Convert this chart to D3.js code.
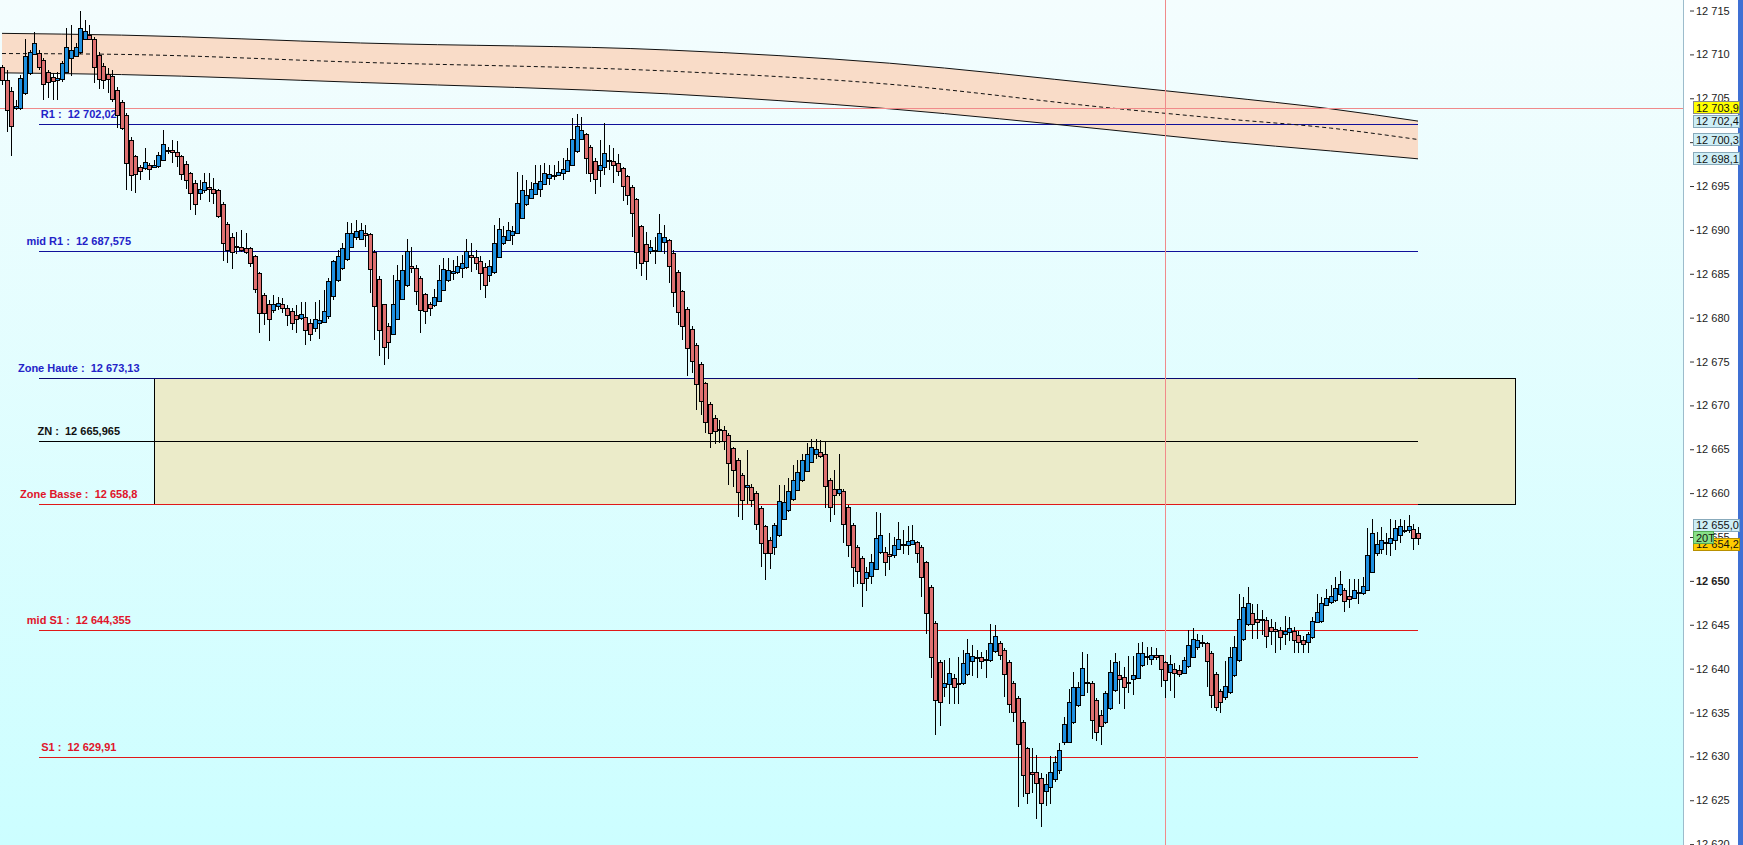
<!DOCTYPE html>
<html><head><meta charset="utf-8">
<script src="https://cdn.jsdelivr.net/npm/d3@7"></script>
<style>html,body{margin:0;padding:0;background:#fff;overflow:hidden}text{font-family:"Liberation Sans",Arial,sans-serif}</style>
</head><body>
<svg id="c" width="1743" height="845"></svg>
<script>
// ---------- DATA ----------
const open = [
12708.6,12707.1,12705.8,12703.9,12703.9,12705.6,12707.9,12710.1,12710.2,12709.4,
12708.0,12707.4,12707.1,12707.2,12708.0,12709.6,12709.9,12710.3,12711.8,12712.2,
12711.8,12709.9,12708.7,12707.8,12707.5,12706.0,12704.6,12703.1,12700.3,12698.4,
12697.2,12697.0,12697.4,12697.2,12697.2,12698.0,12699.0,12699.1,12698.9,12698.4,
12697.5,12696.5,12695.4,12694.3,12694.6,12694.9,12694.7,12694.5,12693.0,12690.7,
12689.2,12688.2,12688.1,12687.9,12687.9,12687.0,12685.1,12682.6,12681.6,12680.9,
12681.4,12681.6,12681.1,12680.8,12680.3,12679.9,12680.1,12679.4,12678.8,12679.4,
12679.5,12680.2,12682.4,12684.3,12685.6,12686.6,12688.1,12689.2,12689.0,12689.6,
12689.5,12687.5,12684.4,12681.5,12679.1,12678.2,12679.9,12682.1,12683.7,12685.9,
12685.7,12684.5,12682.7,12681.6,12681.4,12681.9,12683.1,12684.3,12685.1,12685.2,
12685.6,12685.8,12687.1,12686.9,12686.5,12685.8,12684.9,12685.2,12686.9,12688.5,
12688.9,12689.5,12689.7,12691.4,12693.0,12693.7,12694.1,12694.7,12695.2,12696.0,
12696.2,12696.3,12696.5,12696.7,12697.4,12698.9,12700.4,12700.9,12699.5,12697.9,
12696.8,12697.2,12698.0,12697.9,12697.6,12697.1,12696.1,12694.9,12693.5,12690.5,
12688.4,12687.5,12687.7,12687.6,12688.6,12688.9,12687.4,12685.2,12683.0,12681.0,
12678.7,12676.9,12674.7,12672.5,12670.2,12668.6,12667.3,12667.2,12666.6,12665.1,
12663.8,12662.1,12660.7,12660.7,12660.0,12658.3,12656.2,12654.7,12653.9,12655.2,
12657.1,12658.1,12659.3,12660.4,12661.5,12662.6,12663.6,12664.4,12664.7,12664.5,
12661.5,12660.5,12660.0,12660.3,12658.4,12656.4,12653.9,12652.6,12650.3,12650.6,
12651.4,12653.3,12653.3,12653.1,12653.0,12653.7,12654.1,12654.1,12654.3,12654.4,
12653.9,12652.1,12649.3,12645.2,12640.8,12638.0,12638.2,12638.9,12638.3,12638.3,
12639.4,12640.8,12641.2,12641.3,12641.0,12641.0,12642.0,12642.9,12642.1,12640.8,
12638.4,12636.7,12633.9,12630.9,12628.2,12628.2,12627.5,12626.1,12626.5,12627.5,
12628.4,12631.6,12631.6,12633.9,12635.8,12637.0,12638.5,12638.4,12636.4,12634.7,
12633.9,12635.5,12637.5,12639.3,12639.0,12638.4,12638.8,12638.9,12640.4,12641.3,
12641.1,12641.6,12641.5,12640.7,12639.6,12640.0,12639.8,12639.5,12640.3,12641.4,
12642.5,12643.0,12642.9,12641.8,12639.4,12637.5,12636.8,12637.3,12639.3,12640.9,
12643.3,12645.1,12646.3,12645.7,12645.6,12645.5,12644.8,12644.5,12644.4,12644.0,
12644.2,12644.3,12643.8,12643.3,12643.0,12643.6,12645.4,12645.4,12647.3,12647.6,
12647.8,12648.5,12649.0,12648.3,12648.1,12648.6,12648.6,12649.0,12651.1,12653.2,
12653.7,12654.3,12654.3,12654.6,12655.3,12655.7,12655.7,12655.9,12655.4];
const high = [
12708.8,12708.2,12706.3,12704.8,12707.7,12711.8,12710.5,12712.6,12710.5,12709.6,
12708.2,12707.9,12708.0,12709.2,12713.0,12713.4,12711.3,12714.9,12713.9,12713.4,
12712.0,12710.3,12709.0,12708.4,12708.2,12706.3,12704.8,12703.3,12700.6,12698.5,
12697.4,12699.3,12697.6,12698.0,12698.9,12701.4,12699.5,12700.3,12700.1,12698.5,
12697.8,12696.6,12695.7,12695.7,12696.5,12696.5,12695.9,12694.7,12693.2,12690.9,
12689.6,12689.8,12690.0,12689.6,12688.1,12687.1,12685.2,12682.8,12682.0,12682.6,
12682.4,12682.2,12681.4,12681.1,12681.4,12681.8,12681.8,12679.9,12681.8,12682.0,
12683.2,12684.5,12686.6,12687.7,12688.5,12690.9,12690.8,12691.1,12690.8,12690.6,
12689.6,12687.7,12684.7,12681.6,12679.4,12684.9,12686.0,12687.1,12689.0,12688.1,
12686.0,12684.7,12682.8,12681.8,12683.3,12686.0,12686.8,12686.8,12686.6,12687.0,
12687.1,12689.0,12688.5,12687.7,12687.0,12686.2,12686.6,12690.6,12691.3,12690.4,
12690.9,12690.4,12696.6,12696.3,12695.7,12695.5,12697.4,12697.4,12697.6,12697.4,
12697.4,12697.8,12698.2,12699.3,12702.7,12703.2,12702.9,12701.0,12699.7,12698.2,
12700.3,12702.2,12699.7,12699.3,12698.7,12697.2,12696.3,12695.1,12693.6,12690.6,
12689.8,12688.8,12689.2,12691.8,12690.6,12689.0,12687.7,12685.4,12683.1,12681.2,
12679.0,12677.1,12674.9,12672.7,12670.4,12668.9,12668.3,12667.6,12666.9,12665.3,
12664.0,12662.3,12664.9,12661.0,12660.2,12658.5,12656.4,12655.0,12656.6,12660.9,
12660.9,12661.7,12663.2,12663.8,12664.5,12665.7,12666.2,12666.2,12666.0,12665.9,
12661.7,12662.6,12664.5,12660.5,12658.6,12656.6,12654.1,12652.8,12651.6,12653.1,
12657.9,12657.7,12653.9,12655.4,12655.0,12656.7,12655.8,12656.2,12656.4,12654.6,
12654.1,12652.3,12649.5,12645.4,12641.0,12641.0,12641.2,12639.4,12641.3,12642.1,
12643.4,12642.7,12642.1,12641.9,12642.1,12645.1,12645.0,12643.1,12642.3,12641.0,
12638.6,12636.9,12634.1,12631.1,12630.9,12630.1,12628.1,12628.0,12630.0,12630.0,
12631.5,12634.5,12637.7,12639.6,12638.5,12641.9,12641.7,12638.6,12636.6,12635.3,
12637.5,12641.0,12641.8,12640.9,12640.2,12641.4,12641.4,12642.9,12643.0,12642.5,
12642.5,12642.3,12641.6,12640.9,12641.5,12640.6,12640.4,12641.3,12644.4,12644.6,
12644.0,12643.8,12643.0,12642.0,12639.6,12637.7,12640.9,12642.5,12643.7,12648.5,
12648.2,12649.3,12647.4,12647.4,12646.7,12645.9,12645.7,12645.3,12644.8,12646.0,
12645.9,12644.8,12644.3,12643.7,12644.2,12645.9,12648.5,12648.2,12649.1,12649.5,
12650.4,12651.1,12649.2,12650.2,12650.2,12650.2,12650.4,12656.0,12657.0,12655.6,
12656.1,12655.4,12657.0,12656.9,12657.0,12656.9,12657.5,12656.5,12656.1];
const low = [
12706.5,12701.2,12698.4,12703.7,12703.7,12705.4,12707.7,12709.9,12708.2,12704.8,
12705.0,12704.8,12704.8,12706.9,12707.9,12707.5,12709.8,12710.1,12711.7,12711.6,
12706.7,12706.1,12706.1,12705.6,12704.6,12701.6,12701.4,12694.6,12694.4,12694.2,
12695.7,12696.8,12695.7,12697.0,12697.0,12697.8,12698.7,12697.6,12697.2,12695.7,
12694.7,12692.3,12691.7,12693.4,12694.2,12693.2,12693.0,12691.3,12686.4,12686.2,
12685.6,12687.3,12687.5,12687.3,12685.8,12682.8,12678.2,12679.2,12677.3,12680.5,
12680.9,12680.5,12679.0,12678.6,12678.2,12679.7,12676.9,12677.3,12678.4,12677.6,
12679.4,12679.9,12682.0,12684.1,12685.4,12686.4,12687.9,12688.9,12688.9,12688.1,
12682.8,12677.5,12675.6,12674.6,12675.3,12678.0,12679.7,12682.0,12683.5,12685.1,
12681.4,12678.2,12679.3,12680.2,12681.2,12681.8,12683.0,12684.1,12684.3,12685.0,
12684.5,12685.6,12685.2,12685.4,12683.2,12682.2,12684.1,12685.0,12686.8,12688.3,
12688.8,12688.3,12689.6,12691.3,12692.7,12693.5,12694.0,12693.8,12695.1,12695.1,
12695.7,12696.1,12695.7,12696.6,12697.3,12698.8,12700.2,12696.4,12695.5,12694.1,
12694.9,12696.3,12696.8,12695.4,12696.1,12693.3,12692.8,12689.2,12685.6,12684.7,
12684.3,12687.3,12686.1,12687.5,12687.3,12684.0,12681.2,12679.2,12677.5,12673.3,
12673.7,12669.5,12668.9,12666.8,12665.2,12665.6,12665.7,12664.9,12660.9,12660.7,
12657.3,12656.9,12658.8,12658.4,12655.8,12651.6,12650.1,12651.4,12652.9,12655.0,
12656.9,12657.9,12659.1,12660.2,12661.3,12662.4,12663.4,12663.9,12664.0,12658.3,
12656.7,12657.5,12659.7,12654.3,12652.7,12649.3,12649.7,12647.0,12648.9,12649.7,
12651.2,12653.1,12650.5,12651.2,12652.6,12653.5,12653.1,12652.9,12654.1,12652.0,
12648.2,12644.0,12638.9,12632.4,12633.5,12636.8,12636.0,12636.0,12636.0,12638.1,
12639.2,12639.2,12638.9,12640.0,12638.9,12640.8,12641.8,12641.0,12636.8,12634.9,
12633.9,12624.2,12625.4,12624.6,12625.8,12622.9,12622.0,12624.4,12624.6,12627.1,
12628.0,12631.3,12631.5,12633.7,12635.6,12636.9,12637.2,12632.0,12631.7,12631.3,
12633.7,12635.3,12637.3,12636.0,12635.4,12637.2,12637.0,12638.8,12640.2,12640.4,
12640.4,12641.0,12637.9,12636.6,12637.5,12636.6,12639.1,12639.4,12640.1,12641.2,
12642.1,12642.5,12637.9,12635.5,12635.2,12634.9,12636.4,12637.1,12639.1,12640.7,
12643.1,12644.9,12643.4,12643.4,12643.8,12642.4,12642.7,12641.8,12642.1,12642.7,
12643.2,12641.8,12641.8,12641.8,12641.8,12643.4,12645.2,12645.2,12647.1,12647.4,
12647.6,12648.3,12646.4,12646.9,12647.9,12647.4,12648.4,12648.8,12650.9,12652.8,
12653.1,12652.9,12652.8,12653.5,12654.3,12655.4,12655.4,12653.5,12654.1];
const close = [
12707.1,12703.7,12701.8,12704.1,12707.3,12709.8,12710.3,12711.3,12708.6,12706.7,
12706.9,12707.0,12707.3,12709.0,12710.9,12710.5,12710.9,12713.0,12712.7,12711.7,
12708.6,12707.2,12707.1,12707.2,12704.9,12703.1,12701.6,12697.6,12696.3,12696.4,
12696.8,12697.7,12697.0,12697.4,12698.5,12699.8,12699.1,12698.9,12698.4,12696.4,
12695.7,12694.2,12693.0,12694.7,12695.5,12694.7,12694.2,12691.5,12688.5,12687.7,
12687.5,12688.1,12687.8,12687.5,12686.2,12683.2,12680.5,12680.5,12679.9,12681.6,
12681.7,12681.1,12680.3,12679.4,12679.9,12680.4,12678.6,12678.2,12679.8,12679.7,
12680.8,12684.2,12686.4,12687.0,12687.9,12689.6,12689.7,12689.9,12690.0,12689.4,
12685.5,12681.4,12678.6,12676.6,12677.3,12681.6,12684.3,12685.4,12687.6,12685.7,
12683.1,12680.9,12680.8,12681.2,12682.3,12684.3,12685.5,12685.4,12685.3,12685.9,
12686.2,12687.6,12686.9,12686.2,12685.1,12683.8,12685.9,12688.5,12690.1,12689.3,
12690.0,12689.9,12693.1,12694.6,12694.0,12694.7,12695.4,12695.6,12696.5,12696.4,
12696.3,12696.6,12696.9,12698.0,12700.4,12701.8,12701.4,12698.2,12696.5,12695.8,
12697.4,12698.8,12697.9,12697.4,12696.7,12695.0,12693.9,12691.9,12687.5,12686.3,
12686.5,12688.0,12687.6,12689.6,12689.2,12685.9,12683.0,12680.6,12679.0,12676.6,
12675.1,12672.4,12670.5,12668.0,12666.9,12667.1,12667.2,12666.0,12663.4,12662.6,
12660.2,12659.2,12660.9,12659.2,12656.5,12654.3,12653.1,12653.2,12656.4,12659.1,
12659.0,12660.3,12661.5,12662.4,12663.8,12664.5,12665.3,12665.0,12664.3,12660.9,
12658.4,12659.8,12660.5,12656.5,12654.1,12651.6,12651.2,12649.7,12651.0,12652.2,
12654.9,12655.2,12652.2,12652.9,12654.1,12654.8,12654.2,12654.6,12654.7,12653.1,
12650.5,12646.3,12641.3,12636.4,12636.2,12638.4,12639.5,12637.9,12638.4,12640.6,
12641.8,12641.4,12641.3,12640.8,12641.1,12642.9,12643.7,12641.5,12639.4,12636.0,
12635.1,12631.5,12627.9,12625.8,12628.0,12626.9,12624.6,12626.9,12628.2,12629.4,
12630.7,12633.7,12636.2,12637.9,12637.9,12640.1,12638.4,12634.2,12632.8,12633.4,
12637.2,12639.6,12640.7,12638.9,12637.9,12638.5,12639.3,12641.8,12641.8,12641.4,
12641.6,12641.4,12639.9,12638.6,12640.5,12639.5,12639.4,12641.0,12642.7,12643.4,
12643.3,12642.9,12640.8,12637.0,12635.6,12636.2,12638.0,12641.3,12642.5,12645.6,
12647.0,12647.5,12645.0,12645.4,12645.5,12643.7,12644.3,12644.3,12643.6,12644.3,
12644.6,12643.3,12643.0,12642.9,12643.9,12645.4,12646.5,12647.5,12648.1,12648.3,
12649.2,12649.6,12647.7,12648.0,12649.0,12648.7,12649.4,12653.0,12655.5,12654.2,
12654.7,12654.4,12654.9,12656.0,12656.3,12655.8,12656.2,12654.9,12654.8];

// envelope band (moving average channel) sampled at candle indices
const bandIdx    = [0, 26, 78, 145, 193, 241, 265, 289, 308];
const bandUpper  = [12712.4, 12712.2, 12711.3, 12710.5, 12709.0, 12706.5, 12705.2, 12703.8, 12702.4];
const bandMiddle = [12710.1, 12710.0, 12709.1, 12708.1, 12706.6, 12703.9, 12702.7, 12701.6, 12700.3];
const bandLower  = [12707.9, 12707.7, 12706.8, 12705.5, 12703.8, 12701.4, 12700.1, 12699.0, 12698.1];

// pivot levels
const levelNames  = ["R1", "mid R1", "Zone Haute", "ZN", "Zone Basse", "mid S1", "S1"];
const levelValues = [12702.02, 12687.575, 12673.13, 12665.965, 12658.8, 12644.355, 12629.91];
const zoneRange   = [12658.8, 12673.13];

// axis
const tickValues = [12620,12625,12630,12635,12640,12645,12650,12655,12660,12665,12670,12675,12680,12685,12690,12695,12700,12705,12710,12715];
const crosshairIndex = 253;
const crosshairValue = 12703.9;
const lastPrice = 12654.2;
const priceMarker = 12655.0;
const yDomain = [12619.9, 12716.2];

// ---------- STYLE / LAYOUT ----------
const W = 1743, H = 845, plotRight = 1683;
const levelStyle = {
  "R1":        {text:"#2323c8", line:"#10109a"},
  "mid R1":    {text:"#2323c8", line:"#10109a"},
  "Zone Haute":{text:"#2323c8", line:"#0a0a70"},
  "ZN":        {text:"#111111", line:"#000000"},
  "Zone Basse":{text:"#e0142a", line:"#e01818"},
  "mid S1":    {text:"#e0142a", line:"#e01818"},
  "S1":        {text:"#e0142a", line:"#e01818"}
};
const levelStartIdx = 8, levelEndIdx = 308, zoneStartIdx = 33, zoneEndIdx = 329, labelIdx = 16.7;

const svg = d3.select("#c");
const y = d3.scaleLinear().domain(yDomain).range([H, 0]);
const x = d3.scaleLinear().domain([0, open.length - 1]).range([2, 1418]);
const loc = d3.formatLocale({decimal: ",", thousands: " ", grouping: [3], currency: ["", ""]});
const fmtTick = loc.format(",d");
const fmt1 = loc.format(",.1f");
const fmtLevel = loc.format(",.3~f");

// background
const defs = svg.append("defs");
const g = defs.append("linearGradient").attr("id", "bg").attr("x1", 0).attr("y1", 0).attr("x2", 0).attr("y2", 1);
g.append("stop").attr("offset", "0%").attr("stop-color", "#f4fdfe");
g.append("stop").attr("offset", "100%").attr("stop-color", "#ccfeff");
svg.append("rect").attr("x", 0).attr("y", 0).attr("width", plotRight).attr("height", H).attr("fill", "url(#bg)");

// band
const bandData = bandIdx.map((d, i) => ({i: d, u: bandUpper[i], m: bandMiddle[i], l: bandLower[i]}));
const curve = d3.curveMonotoneX;
svg.append("path").datum(bandData)
  .attr("d", d3.area().x(d => x(d.i)).y0(d => y(d.l)).y1(d => y(d.u)).curve(curve))
  .attr("fill", "#f9dcc8");

// zone rect
svg.append("rect")
  .attr("x", Math.round(x(zoneStartIdx)) + 0.5)
  .attr("y", Math.round(y(zoneRange[1])) + 0.5)
  .attr("width", Math.round(x(zoneEndIdx) - x(zoneStartIdx)))
  .attr("height", Math.round(y(zoneRange[0]) - y(zoneRange[1])))
  .attr("fill", "#ebebc9").attr("stroke", "#000").attr("stroke-width", 1);

// level lines
const lv = svg.append("g").attr("shape-rendering", "crispEdges");
levelNames.forEach((n, i) => {
  const yy = Math.round(y(levelValues[i])) + 0.5;
  lv.append("line").attr("x1", x(levelStartIdx)).attr("x2", x(levelEndIdx))
    .attr("y1", yy).attr("y2", yy).attr("stroke", levelStyle[n].line).attr("stroke-width", 1);
});

// band lines
const lineGen = key => d3.line().x(d => x(d.i)).y(d => y(d[key])).curve(curve);
svg.append("path").datum(bandData).attr("d", lineGen("u")).attr("fill", "none").attr("stroke", "#111").attr("stroke-width", 1);
svg.append("path").datum(bandData).attr("d", lineGen("l")).attr("fill", "none").attr("stroke", "#111").attr("stroke-width", 1);
svg.append("path").datum(bandData).attr("d", lineGen("m")).attr("fill", "none").attr("stroke", "#111").attr("stroke-width", 1).attr("stroke-dasharray", "4,3");

// level labels
levelNames.forEach((n, i) => {
  svg.append("text")
    .attr("x", x(labelIdx)).attr("y", y(levelValues[i]) - 6)
    .attr("text-anchor", "middle").attr("font-size", "11px").attr("font-weight", "bold")
    .attr("fill", levelStyle[n].text).style("white-space", "pre")
    .text(n + " :  " + fmtLevel(levelValues[i]));
});

// crosshair
const ch = svg.append("g").attr("shape-rendering", "crispEdges");
const cx0 = Math.round(x(crosshairIndex)) + 0.5;
ch.append("line").attr("x1", cx0).attr("x2", cx0).attr("y1", 0).attr("y2", H).attr("stroke", "#f08a8a");
const cy0 = Math.round(y(crosshairValue)) + 0.5;
ch.append("line").attr("x1", 0).attr("x2", plotRight).attr("y1", cy0).attr("y2", cy0).attr("stroke", "#f08a8a");

// candles
const candles = open.map((o, i) => ({i, o, h: high[i], l: low[i], c: close[i]}));
const cg = svg.append("g").attr("shape-rendering", "crispEdges");
cg.selectAll("line.w").data(candles).join("line")
  .attr("x1", d => Math.round(x(d.i)) + 0.5).attr("x2", d => Math.round(x(d.i)) + 0.5)
  .attr("y1", d => y(Math.max(d.h, d.o, d.c))).attr("y2", d => y(Math.min(d.l, d.o, d.c)))
  .attr("stroke", "#000").attr("stroke-width", 1);
cg.selectAll("rect.b").data(candles).join("rect")
  .attr("x", d => Math.round(x(d.i)) - 2 + 0.5)
  .attr("y", d => Math.round(y(Math.max(d.o, d.c))) + 0.5)
  .attr("width", 4)
  .attr("height", d => Math.max(1, Math.round(Math.abs(y(d.o) - y(d.c)))))
  .attr("fill", d => d.c >= d.o ? "#1e90e0" : "#de7070")
  .attr("stroke", "#000").attr("stroke-width", 1);

// axis panel
svg.append("rect").attr("x", plotRight).attr("y", 0).attr("width", W - plotRight).attr("height", H).attr("fill", "#ffffff");
svg.append("line").attr("x1", plotRight + 0.5).attr("x2", plotRight + 0.5).attr("y1", 0).attr("y2", H).attr("stroke", "#9cbccc");
svg.append("rect").attr("x", 1738).attr("y", 0).attr("width", 5).attr("height", H).attr("fill", "#3f70d4");

const axis = d3.axisRight(y).tickValues(tickValues).tickFormat(fmtTick).tickSize(4).tickPadding(2);
const ag = svg.append("g").attr("transform", "translate(1690,0)").call(axis);
ag.select(".domain").remove();
ag.selectAll(".tick line").attr("stroke", "#333");
ag.selectAll(".tick text").attr("fill", "#222").attr("font-size", "11px")
  .attr("font-family", '"Liberation Sans",Arial,sans-serif')
  .attr("font-weight", d => d === 12650 ? "bold" : "normal");

// value boxes on the axis
function box(v, label, fill, stroke, opts = {}) {
  const cy = (opts.cy != null ? opts.cy : y(v));
  const bx = opts.x || 1693, bw = opts.w || 46, bh = 13;
  svg.append("rect").attr("x", bx + 0.5).attr("y", Math.round(cy - bh / 2) + 0.5).attr("width", bw).attr("height", bh - 1)
    .attr("fill", fill).attr("stroke", stroke);
  svg.append("text").attr("x", bx + 3).attr("y", cy + 4).attr("font-size", "11px").attr("fill", "#111").text(label);
}
box(crosshairValue, fmt1(crosshairValue), "#ffff00", "#888");
box(bandUpper[bandUpper.length - 1], fmt1(bandUpper[bandUpper.length - 1]), "#cdeef6", "#88aabb");
box(bandMiddle[bandMiddle.length - 1], fmt1(bandMiddle[bandMiddle.length - 1]), "#cdeef6", "#88aabb");
box(bandLower[bandLower.length - 1], fmt1(bandLower[bandLower.length - 1]), "#cdeef6", "#88aabb");
box(priceMarker, fmt1(priceMarker), "#cdeef6", "#88aabb", {cy: y(priceMarker) - 12});
box(lastPrice, fmt1(lastPrice), "#ffcc00", "#b89000");
box(priceMarker, "20T", "#88e088", "#55aa55", {cy: y(priceMarker) + 0.5, w: 20});
</script>
</body></html>
